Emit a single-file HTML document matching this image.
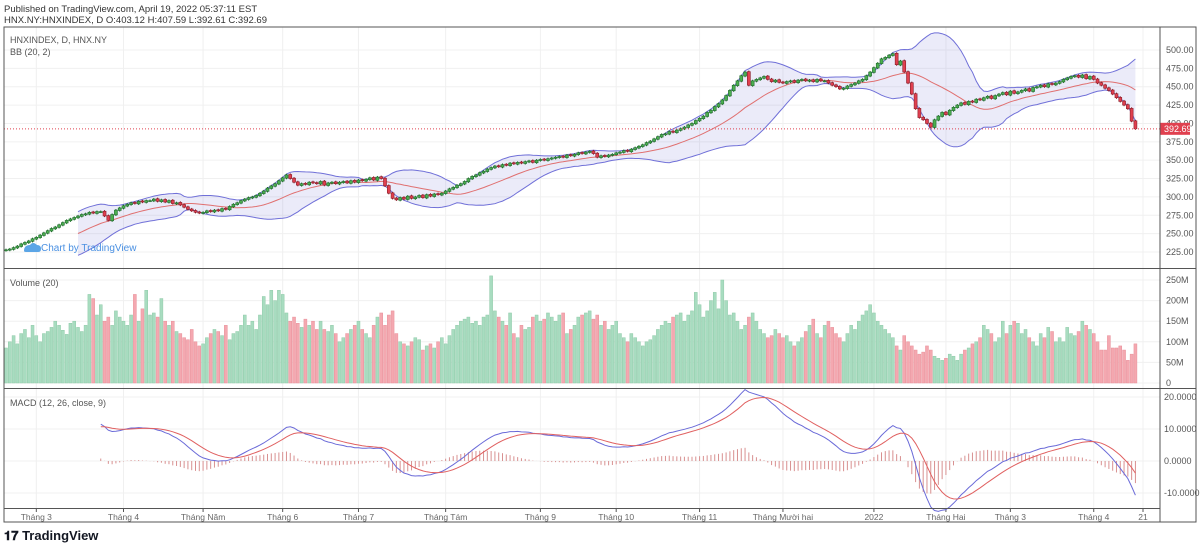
<!DOCTYPE html>
<html><head><meta charset="utf-8"><style>
body{margin:0;background:#fff;width:1200px;height:547px;overflow:hidden;font-family:"Liberation Sans",sans-serif}
svg text{font-family:"Liberation Sans",sans-serif}
</style></head><body>
<svg id="c" width="1200" height="547" xmlns="http://www.w3.org/2000/svg">
<text x="4" y="12" font-size="9.5" fill="#333">Published on TradingView.com, April 19, 2022 05:37:11 EST</text>
<text x="4" y="23" font-size="9.5" fill="#333">HNX.NY:HNXINDEX, D O:403.12 H:407.59 L:392.61 C:392.69</text>
<g id="grid"></g><g id="marks"></g>
<rect x="4" y="27" width="1192" height="495" fill="none" stroke="#555" stroke-width="1"/>
<line x1="1160" y1="27" x2="1160" y2="522" stroke="#555"/>
<line x1="4" y1="268.5" x2="1196" y2="268.5" stroke="#555"/>
<line x1="4" y1="388.5" x2="1196" y2="388.5" stroke="#555"/>
<line x1="4" y1="508.5" x2="1160" y2="508.5" stroke="#555"/>
<text x="10" y="43" font-size="9" fill="#555">HNXINDEX, D, HNX.NY</text>
<text x="10" y="55" font-size="9" fill="#555">BB (20, 2)</text>
<text x="10" y="286" font-size="9" fill="#555">Volume (20)</text>
<text x="10" y="406" font-size="9" fill="#555">MACD (12, 26, close, 9)</text>
<g><path d="M24 251 q0-6 6-6 q3-4 7 0 q4 0 4 4 q0 3-3 3 h-11 q-3 0-3-1z" fill="#5ba5e6"/><text x="41" y="251" font-size="10" fill="#4a90e2">Chart by TradingView</text></g>
<text x="4" y="540" font-size="13" font-weight="bold" fill="#131722">𝟏𝟕 TradingView</text>
</svg>
<script>
const closes=[228,229,231,233,236,238,240,
243,245,248,251,254,257,259,262,
265,268,270,272,274,276,
277,279,278,280,280,
274,268,276,282,285,288,
290,292,291,294,293,295,295,
297,294,296,293,295,291,292,
289,286,283,281,279,278,
279,281,280,282,281,284,283,
287,290,292,295,
297,299,300,302,
305,308,312,315,318,
322,326,330,
325,320,316,318,
317,320,319,318,321,316,319,320,318,
320,321,319,322,320,323,322,
324,326,323,327,325,
315,305,298,
296,299,297,301,298,300,
302,299,303,301,304,303,305,
308,311,313,316,318,
321,325,328,330,333,335,338,340,
342,341,344,343,346,345,347,
346,348,349,347,350,351,350,352,353,354,
355,354,357,356,358,360,359,361,362,
359,354,356,
355,357,358,360,361,363,362,365,
367,369,371,374,376,379,382,385,
386,389,388,391,393,395,398,400,
404,407,410,415,418,423,427,432,
438,445,452,458,465,470,
452,458,460,462,
464,460,457,459,456,455,
457,458,456,459,460,
458,459,457,460,458,458,
455,452,450,447,448,
451,453,455,458,460,
465,470,476,482,488,
490,493,495,
480,485,470,
455,440,420,408,405,
400,395,405,410,415,
412,418,422,425,428,
426,430,429,433,432,
435,437,434,438,440,
442,439,444,441,443,
445,447,444,449,450,
452,450,454,453,455,
457,460,462,464,465,
463,466,461,464,460,
455,452,448,445,
440,435,430,425,
420,403.12,392.69];
const volumes=[85,100,115,95,120,130,110,140,115,100,
120,125,135,150,140,128,118,145,150,135,
125,140,215,205,165,190,150,160,140,175,
160,150,140,165,215,150,180,225,165,170,
160,205,150,140,150,125,120,110,105,130,
100,90,95,110,120,130,125,115,140,105,
120,125,140,165,140,150,130,165,210,190,
225,200,225,215,170,150,160,145,135,155,
140,150,130,150,130,125,140,120,100,110,
120,130,140,150,130,120,110,140,160,170,
140,165,175,120,100,95,90,100,110,105,
80,90,95,85,100,110,95,115,130,140,
150,155,160,145,150,140,160,165,260,175,
160,150,140,170,120,110,140,130,135,160,
165,150,155,170,160,150,165,170,120,130,
140,160,165,170,175,155,165,140,150,130,
140,150,120,110,100,120,110,100,90,100,
105,115,130,140,150,145,160,165,170,150,
165,175,220,190,160,175,200,220,180,250,
200,165,170,150,130,140,160,170,150,130,
120,110,115,130,120,110,115,100,90,100,
110,125,140,155,120,110,140,150,135,120,
110,100,120,140,130,150,165,175,190,170,
150,140,130,120,110,90,80,115,100,90,
80,70,75,90,80,65,60,55,60,70,
65,55,70,80,85,95,100,110,140,130,
120,100,110,150,120,140,150,145,120,130,
110,100,90,120,110,135,125,100,110,100,
135,120,115,125,150,140,130,120,100,80,
80,115,85,85,90,80,55,70,95];
const priceTicks=[225,250,275,300,325,350,375,400,425,450,475,500];
const volTicks=[0,50,100,150,200,250];
const volTickLabels=["0","50M","100M","150M","200M","250M"];
const macdTicks=[-10,0,10,20];
const monthLabels=["Tháng 3","Tháng 4","Tháng Năm","Tháng 6","Tháng 7","Tháng Tám","Tháng 9","Tháng 10","Tháng 11","Tháng Mười hai","2022","Tháng Hai","Tháng 3","Tháng 4","21"];
const monthIdx=[8,31,52,73,93,116,141,161,183,205,229,248,265,287,300];

const NS="http://www.w3.org/2000/svg";
const X=i=>6+i*3.79;
const YP=p=>50+(500-p)*0.7345;
const YV=v=>383-v*(103/250);
const YM=m=>461-m*3.2;
const grid=document.getElementById('grid'),marks=document.getElementById('marks');
function el(tag,attrs,parent){const e=document.createElementNS(NS,tag);for(const k in attrs)e.setAttribute(k,attrs[k]);parent.appendChild(e);return e;}
priceTicks.forEach(p=>{const l=el('line',{x1:4,x2:1160,y1:YP(p),y2:YP(p),stroke:'#f0f0f0'},grid);


const t=el('text',{x:1166,y:YP(p)+3,'font-size':9,fill:'#555'},grid);t.textContent=p.toFixed(2);

});
volTicks.forEach((v,k)=>{el('line',{x1:4,x2:1160,y1:YV(v),y2:YV(v),stroke:'#f0f0f0'},grid);
const t=el('text',{x:1166,y:YV(v)+3,'font-size':9,fill:'#555'},grid);t.textContent=volTickLabels[k];

});
macdTicks.forEach(m=>{el('line',{x1:4,x2:1160,y1:YM(m),y2:YM(m),stroke:'#f0f0f0'},grid);
const t=el('text',{x:1164,y:YM(m)+3,'font-size':9,fill:'#555'},grid);t.textContent=(m<0?'-':' ')+Math.abs(m).toFixed(4);

});
monthIdx.forEach((i,k)=>{const x=X(i);el('line',{x1:x,x2:x,y1:27,y2:508,stroke:'#f0f0f0'},grid);
el('line',{x1:x,x2:x,y1:508,y2:512,stroke:'#555'},grid);
const t=el('text',{x:x,y:520,'font-size':8.5,fill:'#666','text-anchor':'middle'},grid);t.textContent=monthLabels[k];

});
const N=closes.length;let up=[],lo=[],mid=[];
for(let i=19;i<N;i++){const s=closes.slice(i-19,i+1);const m=s.reduce((a,b)=>a+b)/20;const sd=Math.sqrt(s.reduce((a,b)=>a+(b-m)**2,0)/20);mid.push([X(i),YP(m)]);up.push([X(i),YP(m+2*sd)]);lo.push([X(i),YP(m-2*sd)]);}
const pts=a=>a.map(p=>p[0].toFixed(1)+','+p[1].toFixed(1)).join(' ');
const fill=el('polygon',{points:pts(up)+' '+pts(lo.slice().reverse()),fill:'rgba(110,110,210,0.14)'},marks);


[[up,'#7070d8','bb-upper'],[lo,'#7070d8','bb-lower'],[mid,'#e07070','bb-basis']].forEach(([a,c,n])=>{const l=el('polyline',{points:pts(a),fill:'none',stroke:c,'stroke-width':1},marks);

});
for(let i=0;i<N;i++){const c=closes[i],o=i?closes[i-1]+(c>=closes[i-1]?-0.5:0.5):c-1;const upC=c>=o;
const hi=Math.max(o,c)+1.5,lw=Math.min(o,c)-1.5,x=X(i);
const g=el('g',{},marks);


el('line',{x1:x,x2:x,y1:YP(hi),y2:YP(lw),stroke:upC?'#1f6b2c':'#8a1c28'},g);
const t=Math.min(YP(o),YP(c)),h=Math.max(1,Math.abs(YP(o)-YP(c)));
el('rect',{x:x-1.5,y:t,width:3,height:h,fill:upC?'#4caf50':'#e0404f',stroke:upC?'#1f6b2c':'#8a1c28','stroke-width':0.6},g);
const v=el('rect',{x:x-1.5,y:YV(volumes[i]),width:3,height:383-YV(volumes[i]),fill:upC?'#a8dcc0':'#f4a8b0',stroke:upC?'#8fcaa8':'#e8909a','stroke-width':0.5},marks);

}
const lp=closes[N-1];
el('line',{x1:4,x2:1160,y1:YP(lp),y2:YP(lp),stroke:'#e0404f','stroke-dasharray':'1,2'},marks);
el('rect',{x:1160,y:YP(lp)-6,width:30,height:12,fill:'#e0404f'},marks);
const lt=el('text',{x:1164,y:YP(lp)+3,'font-size':9,fill:'#fff'},marks);lt.textContent=lp.toFixed(2);


function ema(a,n){const k=2/(n+1);let r=[a[0]];for(let i=1;i<a.length;i++)r.push(a[i]*k+r[i-1]*(1-k));return r;}
const e12=ema(closes,12),e26=ema(closes,26);const macd=closes.map((_,i)=>e12[i]-e26[i]);const sig=ema(macd,9);
const S=25;
for(let i=S;i<N;i++){const h=macd[i]-sig[i];const l=el('line',{x1:X(i),x2:X(i),y1:YM(0),y2:YM(h),stroke:'#d89090','stroke-width':1},marks);

}
const mp=[],sp=[];for(let i=S;i<N;i++){mp.push([X(i),YM(macd[i])]);sp.push([X(i),YM(sig[i])]);}
const ml=el('polyline',{points:pts(mp),fill:'none',stroke:'#6a6ad8','stroke-width':1},marks);


const sl=el('polyline',{points:pts(sp),fill:'none',stroke:'#e06060','stroke-width':1},marks);


</script>
</body></html>
